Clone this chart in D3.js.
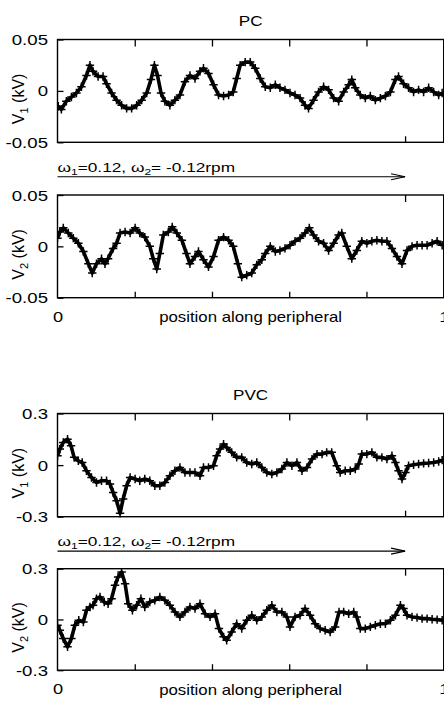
<!DOCTYPE html>
<html><head><meta charset="utf-8">
<script src="https://cdn.jsdelivr.net/npm/d3@7"></script>
<style>
html,body{margin:0;padding:0;background:#fff;}
svg{display:block;font-family:"Liberation Sans",Arial,Helvetica,sans-serif;}
</style>
</head><body>
<svg id="chart" width="444" height="701"></svg>
<script>
// ---------- DATA ----------
const titles = ["PC", "PVC"];
const xTickValues = [0, 0.2, 0.4, 0.6, 0.8, 1];
const xTickLabels = ["0", "", "", "", "", "1"];
const arrowEnd = 0.9;
const yTicksPC = [-0.05, 0, 0.05];
const yLabelsPC = ["-0.05", "0", "0.05"];
const yTicksPVC = [-0.3, 0, 0.3];
const yLabelsPVC = ["-0.3", "0", "0.3"];
const xAxisTitle = "position along peripheral";

// PC, V1
const posPC1 = [0.002,0.010,0.023,0.036,0.049,0.062,0.075,0.084,0.092,0.105,
  0.118,0.127,0.140,0.153,0.166,0.179,0.192,0.205,0.218,0.231,
  0.242,0.251,0.259,0.268,0.278,0.291,0.304,0.317,0.330,0.343,
  0.356,0.369,0.378,0.391,0.404,0.417,0.430,0.443,0.455,0.464,
  0.473,0.486,0.499,0.512,0.525,0.538,0.551,0.564,0.576,0.589,
  0.602,0.615,0.628,0.641,0.650,0.663,0.676,0.689,0.702,0.715,
  0.728,0.741,0.754,0.762,0.771,0.784,0.797,0.810,0.823,0.836,
  0.849,0.862,0.875,0.883,0.896,0.909,0.922,0.935,0.948,0.961,
  0.974,0.987,0.996];
const valPC1 = [-0.015,-0.018,-0.010,-0.006,-0.002,0.004,0.015,0.025,0.019,0.014,
  0.014,0.007,-0.002,-0.009,-0.014,-0.017,-0.017,-0.014,-0.009,-0.002,
  0.011,0.025,0.015,-0.002,-0.010,-0.014,-0.009,-0.004,0.009,0.015,
  0.012,0.019,0.022,0.017,0.006,-0.004,-0.005,-0.004,-0.001,0.012,
  0.025,0.028,0.028,0.022,0.012,0.004,0.003,0.006,0.003,0.001,
  -0.002,-0.004,-0.007,-0.014,-0.017,-0.009,-0.001,0.004,0.001,-0.007,
  -0.010,-0.001,0.006,0.011,0.003,-0.004,-0.007,-0.005,-0.009,-0.007,
  -0.005,-0.001,0.011,0.014,0.007,0.003,-0.001,0.001,-0.001,0.003,
  -0.001,-0.004,-0.002];

// PC, V2
const posPC2 = [0.000,0.006,0.015,0.028,0.041,0.054,0.067,0.080,0.090,0.101,0.114,
  0.123,0.131,0.144,0.153,0.162,0.175,0.188,0.201,0.213,0.226,
  0.239,0.248,0.257,0.265,0.274,0.287,0.297,0.309,0.322,0.334,
  0.343,0.356,0.365,0.378,0.391,0.404,0.417,0.430,0.443,0.455,
  0.467,0.477,0.490,0.503,0.516,0.529,0.538,0.551,0.564,0.576,
  0.589,0.602,0.615,0.628,0.641,0.652,0.663,0.676,0.689,0.702,
  0.715,0.728,0.736,0.749,0.762,0.775,0.788,0.801,0.814,0.827,
  0.840,0.853,0.866,0.879,0.892,0.905,0.918,0.931,0.944,0.957,
  0.970,0.983,0.996];
const valPC2 = [0.008,0.014,0.018,0.013,0.008,0.003,-0.005,-0.017,-0.026,-0.017,-0.012,
  -0.017,-0.012,-0.002,0.003,0.013,0.014,0.013,0.018,0.013,0.009,
  0.000,-0.012,-0.022,-0.007,0.011,0.014,0.019,0.013,0.006,-0.007,
  -0.017,-0.010,-0.005,-0.013,-0.020,-0.010,0.006,0.009,0.006,0.000,
  -0.017,-0.030,-0.028,-0.026,-0.018,-0.013,-0.007,0.000,-0.005,-0.004,
  -0.002,0.001,0.005,0.008,0.013,0.018,0.011,0.005,0.003,-0.004,
  0.003,0.011,0.013,0.000,-0.012,-0.004,0.005,0.003,0.005,0.006,
  0.005,0.005,-0.002,-0.010,-0.017,-0.004,0.000,0.001,0.001,0.001,
  0.003,0.005,0.001];

// PVC, V1
const posPVC1 = [0.000,0.006,0.015,0.026,0.035,0.043,0.054,0.064,0.075,0.088,
  0.101,0.114,0.127,0.136,0.144,0.153,0.162,0.170,0.179,0.188,
  0.201,0.213,0.226,0.239,0.252,0.265,0.278,0.291,0.304,0.317,
  0.330,0.343,0.356,0.369,0.378,0.391,0.404,0.412,0.421,0.430,
  0.438,0.451,0.464,0.477,0.490,0.503,0.516,0.529,0.542,0.555,
  0.568,0.581,0.594,0.607,0.620,0.633,0.646,0.659,0.672,0.685,
  0.697,0.710,0.723,0.732,0.745,0.758,0.771,0.780,0.788,0.801,
  0.814,0.827,0.840,0.853,0.866,0.875,0.883,0.892,0.901,0.909,
  0.922,0.935,0.948,0.961,0.974,0.987,0.996];
const valPVC1 = [0.054,0.093,0.132,0.151,0.112,0.045,0.025,0.015,-0.033,-0.072,
  -0.101,-0.091,-0.091,-0.110,-0.159,-0.207,-0.280,-0.197,-0.120,-0.072,
  -0.081,-0.091,-0.081,-0.091,-0.120,-0.120,-0.101,-0.062,-0.033,-0.014,
  -0.043,-0.043,-0.043,-0.062,-0.014,-0.014,-0.004,0.054,0.093,0.122,
  0.103,0.074,0.045,0.045,0.015,0.006,0.015,-0.014,-0.043,-0.052,
  -0.043,-0.023,0.015,-0.004,0.015,-0.033,-0.014,0.035,0.064,0.064,
  0.074,0.074,-0.004,-0.043,-0.033,-0.033,-0.023,0.006,0.064,0.064,
  0.074,0.045,0.045,0.035,0.054,0.015,-0.033,-0.081,-0.043,-0.004,
  0.002,0.006,0.010,0.012,0.015,0.021,0.029];

// PVC, V2
const posPVC2 = [0.000,0.006,0.015,0.026,0.036,0.045,0.055,0.067,0.075,0.084,
  0.092,0.101,0.110,0.121,0.131,0.140,0.149,0.157,0.166,0.175,
  0.183,0.194,0.205,0.216,0.226,0.239,0.252,0.265,0.278,0.291,
  0.304,0.317,0.330,0.343,0.356,0.369,0.382,0.395,0.408,0.418,
  0.430,0.438,0.451,0.464,0.477,0.490,0.503,0.516,0.529,0.542,
  0.555,0.568,0.581,0.594,0.602,0.615,0.628,0.641,0.654,0.667,
  0.680,0.693,0.706,0.719,0.729,0.741,0.754,0.767,0.775,0.784,
  0.797,0.810,0.823,0.836,0.849,0.862,0.875,0.888,0.896,0.905,
  0.918,0.931,0.944,0.957,0.970,0.983,0.996];
const valPVC2 = [-0.034,-0.064,-0.113,-0.162,-0.113,-0.034,-0.005,-0.015,0.054,0.074,
  0.084,0.123,0.133,0.103,0.093,0.123,0.202,0.251,0.280,0.211,
  0.093,0.054,0.084,0.123,0.074,0.103,0.113,0.133,0.113,0.084,
  0.044,0.015,0.044,0.074,0.064,0.093,0.034,0.015,0.034,-0.054,
  -0.103,-0.123,-0.074,-0.025,-0.054,-0.005,0.025,-0.005,0.015,0.054,
  0.084,0.044,0.044,0.015,-0.044,0.015,0.025,0.064,0.025,-0.025,
  -0.054,-0.064,-0.074,-0.044,0.044,0.044,0.034,0.044,0.015,-0.054,
  -0.054,-0.044,-0.034,-0.025,-0.025,-0.005,0.025,0.084,0.064,0.025,
  0.015,0.011,0.005,0.005,0.001,-0.001,-0.005];

// ---------- CHART ----------
const svg = d3.select("#chart");
const left = 57.5, right = 443.7;
const x = d3.scaleLinear().domain([0, 1]).range([left, right]);

const panels = [
  {pos: posPC1, val: valPC1, ticks: yTicksPC, labels: yLabelsPC, top: 39.5, bottom: 142.3, sub: "1",
   topTicks: [0.2,0.4,0.6,0.8], botTicks: [arrowEnd], title: titles[0], xLabels: false},
  {pos: posPC2, val: valPC2, ticks: yTicksPC, labels: yLabelsPC, top: 195, bottom: 297.7, sub: "2",
   topTicks: [arrowEnd], botTicks: [0.2,0.4,0.6,0.8], xLabels: true},
  {pos: posPVC1, val: valPVC1, ticks: yTicksPVC, labels: yLabelsPVC, top: 413.5, bottom: 516.7, sub: "1",
   topTicks: [0.2,0.4,0.6,0.8], botTicks: [arrowEnd], title: titles[1], xLabels: false},
  {pos: posPVC2, val: valPVC2, ticks: yTicksPVC, labels: yLabelsPVC, top: 568.7, bottom: 670.2, sub: "2",
   topTicks: [arrowEnd], botTicks: [0.2,0.4,0.6,0.8], xLabels: true}
];

const fs = 14;
// scanned type is a little wider than Liberation Sans: stretch horizontally
function stretched(parent, tx, ty, size, sx, anchor) {
  return parent.append("text")
    .attr("transform", `translate(${tx},${ty}) scale(${sx},1)`)
    .attr("text-anchor", anchor).attr("font-size", size).attr("fill", "#000");
}

panels.forEach((p, i) => {
  const y = d3.scaleLinear().domain([p.ticks[0], p.ticks[2]]).range([p.bottom, p.top]);
  const g = svg.append("g");

  // frame
  g.append("rect").attr("x", left).attr("y", p.top)
    .attr("width", right - left).attr("height", p.bottom - p.top)
    .attr("fill", "none").attr("stroke", "#000").attr("stroke-width", 1.4);

  // y axis
  const ya = g.append("g").attr("transform", `translate(${left},0)`)
    .call(d3.axisLeft(y).tickValues(p.ticks).tickSizeInner(-6).tickSizeOuter(0).tickPadding(9.5)
      .tickFormat((d, k) => p.labels[k]));
  ya.attr("font-family", null).attr("font-size", null);
  ya.select(".domain").remove();
  ya.selectAll("line").attr("stroke-width", 1.3);
  ya.selectAll("text").attr("font-size", fs).attr("fill", "#000")
    .attr("x", 0).attr("dy", "0.36em").attr("transform", "translate(-9.5,0) scale(1.33,1)");

  // top ticks
  const ta = g.append("g").attr("transform", `translate(0,${p.top})`)
    .call(d3.axisTop(x).tickValues(p.topTicks).tickSizeInner(-7).tickSizeOuter(0).tickFormat(""));
  ta.select(".domain").remove();
  ta.selectAll("line").attr("stroke-width", 1.3);

  // bottom ticks
  const ba = g.append("g").attr("transform", `translate(0,${p.bottom})`)
    .call(d3.axisBottom(x).tickValues(p.botTicks).tickSizeInner(-6).tickSizeOuter(0).tickFormat(""));
  ba.select(".domain").remove();
  ba.selectAll("line").attr("stroke-width", 1.3);

  if (p.xLabels) {
    const la = g.append("g").attr("transform", `translate(0,${p.bottom})`)
      .call(d3.axisBottom(x).tickValues(xTickValues).tickSize(0).tickPadding(14)
        .tickFormat((d, k) => xTickLabels[k]));
    la.attr("font-family", null).attr("font-size", null);
    la.select(".domain").remove();
    la.selectAll("text").attr("font-size", fs).attr("fill", "#000")
      .attr("y", 0).attr("dy", 0).attr("transform", "translate(0,24) scale(1.3,1)");
    stretched(g, (left + right) / 2, p.bottom + 24.5, fs, 1.2, "middle").text(xAxisTitle);
  }

  // y title
  const cy = (p.top + p.bottom) / 2 + 8;
  const yt = g.append("text").attr("transform", `translate(23.5,${cy}) rotate(-90)`)
    .attr("text-anchor", "middle").attr("font-size", 16);
  yt.append("tspan").text("V");
  yt.append("tspan").attr("font-size", 11).attr("dy", 4).text(p.sub);
  yt.append("tspan").attr("dy", -4).text(" (kV)");

  // title
  if (p.title) {
    stretched(g, (left + right) / 2, p.top - 13.5, fs, 1.22, "middle").text(p.title);
  }

  // data
  const data = d3.range(Math.min(p.pos.length, p.val.length)).map(k => [p.pos[k], p.val[k]]);
  const clip = "clip" + i;
  g.append("clipPath").attr("id", clip).append("rect")
    .attr("x", left).attr("y", p.top - 4).attr("width", right - left).attr("height", p.bottom - p.top + 8);
  const dg = g.append("g").attr("clip-path", `url(#${clip})`);
  dg.append("path").datum(data)
    .attr("d", d3.line().x(d => x(d[0])).y(d => y(d[1])))
    .attr("fill", "none").attr("stroke", "#000").attr("stroke-width", 3.6).attr("stroke-linejoin", "round");
  dg.selectAll("path.pt").data(data).join("path").attr("class", "pt")
    .attr("transform", d => `translate(${x(d[0])},${y(d[1])})`)
    .attr("d", "M-4.2,0H4.2M0,-4.2V4.2")
    .attr("stroke", "#000").attr("stroke-width", 1.5).attr("fill", "none");

  // arrow annotation between V1 and V2
  if (p.botTicks[0] === arrowEnd) {
    const ay = p.bottom + 34.4;
    const ax0 = x(0), ax1 = x(arrowEnd);
    g.append("line").attr("x1", ax0).attr("x2", ax1).attr("y1", ay).attr("y2", ay)
      .attr("stroke", "#000").attr("stroke-width", 1.1);
    g.append("path").attr("d", `M${ax1 - 14},${ay - 3}L${ax1},${ay}L${ax1 - 14},${ay + 3}`)
      .attr("fill", "none").attr("stroke", "#000").attr("stroke-width", 1.1);
    const at = stretched(g, ax0, ay - 5, 13, 1.33, "start");
    at.append("tspan").text("ω");
    at.append("tspan").attr("font-size", 9).attr("dy", 3).text("1");
    at.append("tspan").attr("dy", -3).text("=0.12, ω");
    at.append("tspan").attr("font-size", 9).attr("dy", 3).text("2");
    at.append("tspan").attr("dy", -3).text("= -0.12rpm");
  }
});
</script>
</body></html>
